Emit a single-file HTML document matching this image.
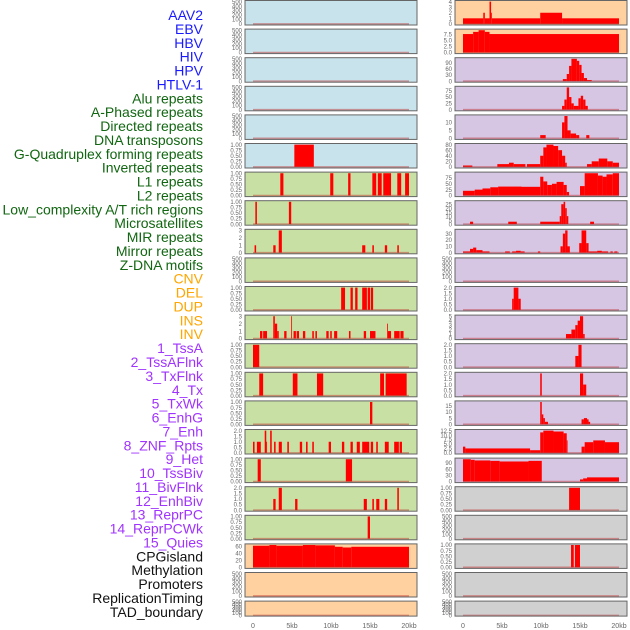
<!DOCTYPE html>
<html><head><meta charset="utf-8"><style>
html,body{margin:0;padding:0;background:#fff;}
svg{display:block;font-family:"Liberation Sans",sans-serif;}
</style></head><body>
<svg id="chart" width="630" height="630" viewBox="0 0 630 630"></svg>
<script>
const labels = ["AAV2","EBV","HBV","HIV","HPV","HTLV-1","Alu repeats","A-Phased repeats","Directed repeats","DNA transposons","G-Quadruplex forming repeats","Inverted repeats","L1 repeats","L2 repeats","Low_complexity A/T rich regions","Microsatellites","MIR repeats","Mirror repeats","Z-DNA motifs","CNV","DEL","DUP","INS","INV","1_TssA","2_TssAFlnk","3_TxFlnk","4_Tx","5_TxWk","6_EnhG","7_Enh","8_ZNF_Rpts","9_Het","10_TssBiv","11_BivFlnk","12_EnhBiv","13_ReprPC","14_ReprPCWk","15_Quies","CPGisland","Methylation","Promoters","ReplicationTiming","TAD_boundary"];
const labelColors = ["#1a1aff","#1a1aff","#1a1aff","#1a1aff","#1a1aff","#1a1aff","#116611","#116611","#116611","#116611","#116611","#116611","#116611","#116611","#116611","#116611","#116611","#116611","#116611","#ffa500","#ffa500","#ffa500","#ffa500","#ffa500","#a033ff","#a033ff","#a033ff","#a033ff","#a033ff","#a033ff","#a033ff","#a033ff","#a033ff","#a033ff","#a033ff","#a033ff","#a033ff","#a033ff","#a033ff","#111","#111","#111","#111","#111"];
const xTicks = [0,5,10,15,20];
const xTickLabels = ["0","5kb","10kb","15kb","20kb"];
const T_E = ["0","100","200","300","400","500"];
const T_1 = ["0.00","0.25","0.50","0.75","1.00"];
const T_3 = ["0","1","2","3"];
const T_2 = ["0.0","0.5","1.0","1.5","2.0"];
// left column segments [startKb, endKb, value]
const leftSegs = [
 [],[],[],[],[],
 [[5.3,7.8,1]],
 [[3.5,3.9,1],[9.9,10.3,1],[12.2,12.5,1],[15.3,15.8,1],[16.0,16.5,1],[16.7,17.7,1],[18.5,19.0,1],[19.5,20.0,1]],
 [[0.3,0.5,1],[4.6,4.9,1]],
 [[0.2,0.4,1],[2.6,2.9,1],[3.3,3.7,3],[14.0,14.4,1],[15.3,15.5,1],[16.9,17.2,1],[18.5,18.7,1]],
 [],
 [[11.3,11.8,1],[12.5,12.8,1],[13.1,13.4,1],[14.0,14.6,1],[14.7,15.0,1],[15.1,15.4,1]],
 [[0.9,1.2,1],[1.3,1.8,1],[2.6,2.8,3],[2.8,3.1,2],[3.1,3.3,1],[4.0,4.3,1],[4.9,5.0,3],[5.2,5.5,1],[5.6,5.9,1],[6.4,6.7,1],[7.6,7.8,1],[8.0,8.2,1],[9.4,9.7,1],[9.9,10.1,1],[10.4,10.8,1],[12.3,12.5,1],[14.2,14.5,1],[15.0,15.7,1],[17.2,17.3,2],[17.3,17.7,1],[18.1,18.8,1],[18.9,19.3,1]],
 [[0.0,0.8,1]],
 [[0.8,1.3,1],[5.1,5.7,1],[8.2,9.0,1],[16.3,16.8,1],[17.0,19.7,1]],
 [[15.0,15.3,1]],
 [[0.0,0.2,1],[0.5,1.0,1],[1.5,1.7,2],[1.7,1.8,1],[2.2,2.4,2],[2.7,2.9,1],[3.3,3.7,1],[4.4,4.6,1],[6.0,6.3,1],[6.8,7.0,1],[7.6,7.8,1],[9.7,10.0,1],[11.4,11.7,1],[12.5,12.8,1],[13.3,13.7,1],[14.0,14.9,1],[15.1,15.4,1],[15.8,16.0,1],[16.9,17.4,1],[18.1,18.7,1],[18.8,19.1,1]],
 [[0.6,1.0,1],[11.9,12.7,1]],
 [[2.6,2.9,1],[3.3,3.7,2],[5.4,5.7,1],[14.2,14.6,1],[15.3,15.5,1],[15.8,16.2,1],[16.9,17.2,1],[18.5,18.7,2]],
 [[14.7,15.0,1]],
 [[0,2.1,61],[2.1,3.0,63],[3.0,6.4,61],[6.4,8.0,63],[8.0,10.5,62],[10.5,11.5,58],[11.5,12.6,56],[12.6,20,58]],
 [],[]
];
const leftTicks = [T_E,T_E,T_E,T_E,T_E,T_1,T_1,T_1,T_3,T_E,T_1,T_3,T_1,T_1,T_1,T_2,T_1,T_2,T_1,["0","20","40","60"],T_E,T_E];
const leftBg = ["#c8e3eb","#c8e3eb","#c8e3eb","#c8e3eb","#c8e3eb","#c8e3eb","#c8e0a4","#c8e0a4","#c8e0a4","#c8e0a4","#c8e0a4","#c8e0a4","#c8e0a4","#c8e0a4","#c8e0a4","#c8e0a4","#c8e0a4","#c8e0a4","#c8e0a4","#ffd0a0","#ffd0a0","#ffd0a0"];
const rightSegs = [
 [[0,2.6,1],[2.6,2.8,2],[2.8,3.4,1],[3.4,3.6,4],[3.6,3.7,2],[3.7,9.9,1],[9.9,12.7,2],[12.7,20,1]],
 [[0,1.3,7.7],[1.3,2.0,8.6],[2.0,2.8,9.3],[2.8,3.4,8.6],[3.4,20,7.7]],
 [[12.8,13.3,10],[13.3,13.6,35],[13.6,13.9,75],[13.9,14.6,110],[14.6,14.9,100],[14.9,15.2,80],[15.2,15.5,40],[15.5,15.9,15],[15.9,16.5,5]],
 [[12.7,13.0,15],[13.0,13.3,40],[13.3,13.6,88],[13.6,13.9,50],[13.9,14.2,25],[14.2,14.8,15],[14.8,15.1,45],[15.1,15.4,55],[15.4,15.7,40],[15.7,16.0,15]],
 [[9.9,10.6,2],[12.7,13.0,10],[13.0,13.4,14],[13.4,13.8,5],[13.8,14.5,3],[14.5,14.9,2],[15.8,16.2,2]],
 [[0,1.2,5],[4.4,5.9,10],[5.9,6.5,15],[6.5,8.0,10],[8.2,9.9,10],[9.9,10.3,40],[10.3,10.7,70],[10.7,11.6,80],[11.6,12.2,75],[12.2,12.7,60],[12.7,13.1,40],[13.1,13.3,15],[15.9,16.5,10],[16.5,17.4,20],[17.4,18.5,30],[18.5,19.2,20],[19.2,20,15]],
 [[0,1.5,20],[1.5,2.5,25],[2.5,3.5,30],[3.5,4.5,35],[4.5,7.5,38],[7.5,9.9,37],[9.9,10.3,80],[10.3,10.8,60],[10.8,11.4,45],[11.4,12.0,50],[12.0,12.9,58],[12.9,13.3,45],[13.3,13.6,15],[15.0,15.6,40],[15.6,17.3,95],[17.3,17.9,85],[17.9,18.4,80],[18.4,19.2,90],[19.2,20,95]],
 [[0.9,1.3,3],[5.8,6.9,3],[9.9,12.4,3],[12.4,12.6,10],[12.6,12.9,25],[12.9,13.1,28],[13.1,13.3,20],[13.3,13.5,10],[16.3,16.8,3]],
 [[0,0.9,2],[0.9,1.3,6],[1.3,1.7,8],[1.7,2.5,4],[2.5,3.4,2],[5.4,6.0,2],[6.3,6.8,2],[6.8,7.4,3],[7.4,7.9,2],[9.6,9.9,2],[12.5,12.8,10],[12.8,13.1,30],[13.1,13.4,35],[13.4,13.7,10],[14.9,15.2,15],[15.2,15.8,35],[15.8,16.1,15],[16.1,17.2,2],[17.2,17.8,3],[17.8,18.6,2],[18.9,19.2,2],[19.4,19.8,2]],
 [],
 [[6.3,6.5,1],[6.5,7.1,2],[7.1,7.4,1]],
 [[13.2,13.9,1],[13.9,14.4,2],[14.4,14.7,3],[14.7,15.0,4],[15.0,15.4,5],[15.4,15.6,1]],
 [[14.4,14.8,1],[14.8,15.2,2]],
 [[9.9,10.1,2],[15.0,15.4,2],[15.4,15.8,1]],
 [[9.9,10.1,18],[10.1,10.3,8],[10.3,10.5,5],[10.5,10.9,2],[15.2,15.5,4],[15.5,15.9,5],[15.9,16.1,4],[16.1,16.3,2]],
 [[0,0.3,3.5],[0.3,8.6,2.5],[8.6,9.9,1.5],[9.9,10.3,11.5],[10.3,11.6,12.5],[11.6,12.9,12],[12.9,13.3,11],[13.3,13.4,7],[15.2,15.6,3.5],[15.6,16.7,6],[16.7,18.2,7],[18.2,20,6]],
 [[0,1.0,108],[1.0,1.5,105],[1.5,3.5,102],[3.5,4.7,100],[4.7,8.4,97],[8.4,10.1,100],[15.0,15.4,10],[15.4,15.9,15],[15.9,20,20]],
 [[13.6,15.0,1]],
 [],
 [[13.85,14.2,1],[14.35,15.0,1]],
 [],[]
];
const rightTicks = [["0","1","2","3","4"],["0.0","2.5","5.0","7.5"],["0","30","60","90"],["0","25","50","75"],["0","5","10"],["0","20","40","60","80"],["0","25","50","75"],["0","5","10","15","20","25"],["0","10","20","30"],T_E,T_2,["0","1","2","3","4","5"],T_2,T_2,["0","5","10","15"],["0.0","2.5","5.0","7.5","10.0","12.5"],["0","30","60","90"],T_1,T_E,T_1,T_E,T_E];
const rightBg = ["#ffd0a0","#ffd0a0"].concat(Array(15).fill("#d6c6e3")).concat(Array(5).fill("#d0d0d0"));

const NS = "http://www.w3.org/2000/svg";
const svg = document.getElementById("chart");
function mk(tag, attrs, parent){const e=document.createElementNS(NS,tag);for(const k in attrs)e.setAttribute(k,attrs[k]);(parent||svg).appendChild(e);return e;}

// row labels
labels.forEach((t,i)=>{
  const el = mk("text",{x:203,y:15+i*13.88+5,"text-anchor":"end","font-size":"14",fill:labelColors[i]});
  el.textContent=t;
  
  
});

const cols = [{x0:245,x1:417,k0:253,segs:leftSegs,ticks:leftTicks,bg:leftBg,name:"left"},{x0:455,x1:627,k0:463,segs:rightSegs,ticks:rightTicks,bg:rightBg,name:"right"}];
const KB = 7.8;
cols.forEach(c=>{
  const xs = kb=>c.k0+kb*KB;
  for(let r=0;r<22;r++){
    const top = 0.5+r*28.6, h = r===21?15:24.5;
    const g = mk("g",{});
    
    
    const bgR = mk("rect",{x:c.x0,y:top,width:c.x1-c.x0,height:h,fill:c.bg[r]},g);
    
    
    const segs = c.segs[r], tk = c.ticks[r];
    const tvals = tk.map(parseFloat);
    let dmax = segs.length ? Math.max(...segs.map(s=>s[2])) : Math.max(...tvals);
    const yhi = dmax*1.05, ylo = -dmax*0.05;
    const ys = v=>top+h-(v-ylo)/(yhi-ylo)*h;
    segs.forEach(s=>{
      const b = mk("rect",{x:xs(s[0]),y:ys(s[2]),width:Math.max(0.8,xs(s[1])-xs(s[0])),height:ys(0)-ys(s[2]),fill:"#ff0000"},g);
      
      
    });
    const bl = mk("line",{x1:xs(0),x2:xs(20),y1:ys(0),y2:ys(0),stroke:"rgba(190,40,40,0.45)","stroke-width":"1.5"},g);
    
    
    const fr = mk("rect",{x:c.x0,y:top,width:c.x1-c.x0,height:h,fill:"none",stroke:"#666","stroke-width":"1"},g);
    
    
    tk.forEach((t,j)=>{
      const tl = mk("text",{x:c.x0-3,y:ys(tvals[j])+2.2,"text-anchor":"end","font-size":"6",fill:"#666"},g);
      tl.textContent=t;
      
      
    });
  }
  xTicks.forEach((v,j)=>{
    const xl = mk("text",{x:xs(v),y:628,"text-anchor":"middle","font-size":"7",fill:"#666"});
    xl.textContent=xTickLabels[j];
    
    
  });
});
</script>
</body></html>
